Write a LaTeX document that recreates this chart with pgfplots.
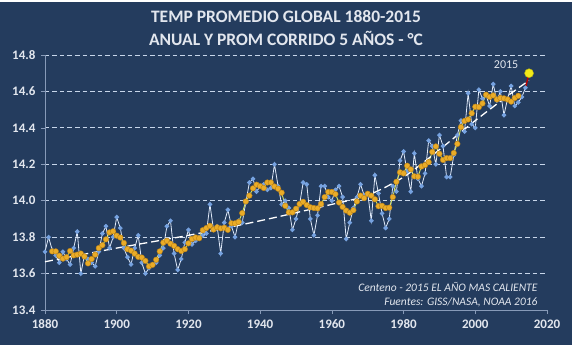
\documentclass[border=0pt]{standalone}
\usepackage{fontspec}
\setmainfont{Carlito}
\usepackage{pgfplots}
\usepackage{pgfplotstable}
\pgfplotsset{compat=1.18}
\definecolor{bg}{RGB}{36,60,94}
\definecolor{gridc}{RGB}{200,214,234}
\definecolor{axc}{RGB}{135,154,184}
\definecolor{txt}{RGB}{226,230,238}
\definecolor{annblue}{RGB}{118,162,224}
\definecolor{annline}{RGB}{225,235,250}
\definecolor{orangem}{RGB}{234,172,40}
\definecolor{orangee}{RGB}{186,128,20}
\definecolor{yline}{RGB}{214,228,96}
\definecolor{ydot}{RGB}{242,234,24}

\pgfplotstableread{
year t
1880 13.72
1881 13.80
1882 13.73
1883 13.70
1884 13.66
1885 13.72
1886 13.68
1887 13.65
1888 13.74
1889 13.83
1890 13.60
1891 13.70
1892 13.68
1893 13.66
1894 13.64
1895 13.72
1896 13.82
1897 13.86
1898 13.74
1899 13.80
1900 13.91
1901 13.85
1902 13.74
1903 13.69
1904 13.65
1905 13.74
1906 13.81
1907 13.66
1908 13.60
1909 13.63
1910 13.65
1911 13.66
1912 13.70
1913 13.74
1914 13.86
1915 13.89
1916 13.71
1917 13.62
1918 13.68
1919 13.77
1920 13.84
1921 13.76
1922 13.78
1923 13.80
1924 13.81
1925 13.82
1926 13.98
1927 13.84
1928 13.86
1929 13.71
1930 13.88
1931 13.95
1932 13.86
1933 13.80
1934 13.89
1935 13.88
1936 13.99
1937 14.10
1938 14.12
1939 14.05
1940 14.08
1941 14.09
1942 14.06
1943 14.07
1944 14.20
1945 14.08
1946 13.98
1947 14.00
1948 13.96
1949 13.84
1950 13.90
1951 13.98
1952 14.10
1953 14.09
1954 13.90
1955 13.81
1956 13.92
1957 14.08
1958 14.08
1959 14.02
1960 14.00
1961 14.06
1962 14.08
1963 14.02
1964 13.79
1965 13.88
1966 13.96
1967 14.02
1968 14.09
1969 14.03
1970 14.04
1971 13.89
1972 14.14
1973 14.04
1974 13.93
1975 13.85
1976 13.90
1977 14.08
1978 14.05
1979 14.22
1980 14.27
1981 14.16
1982 14.05
1983 14.26
1984 14.12
1985 14.08
1986 14.15
1987 14.33
1988 14.30
1989 14.20
1990 14.36
1991 14.30
1992 14.13
1993 14.13
1994 14.25
1995 14.36
1996 14.44
1997 14.38
1998 14.59
1999 14.42
2000 14.40
2001 14.61
2002 14.56
2003 14.58
2004 14.52
2005 14.64
2006 14.55
2007 14.60
2008 14.47
2009 14.56
2010 14.63
2011 14.52
2012 14.54
2013 14.57
2014 14.62
}\annual

\pgfplotstableread{
year t
1882 13.722
1883 13.722
1884 13.698
1885 13.682
1886 13.690
1887 13.724
1888 13.700
1889 13.704
1890 13.710
1891 13.694
1892 13.656
1893 13.680
1894 13.704
1895 13.740
1896 13.756
1897 13.788
1898 13.826
1899 13.832
1900 13.808
1901 13.798
1902 13.768
1903 13.734
1904 13.726
1905 13.710
1906 13.692
1907 13.688
1908 13.670
1909 13.640
1910 13.648
1911 13.676
1912 13.722
1913 13.770
1914 13.780
1915 13.764
1916 13.752
1917 13.734
1918 13.724
1919 13.734
1920 13.766
1921 13.790
1922 13.798
1923 13.794
1924 13.838
1925 13.850
1926 13.862
1927 13.842
1928 13.854
1929 13.848
1930 13.852
1931 13.840
1932 13.876
1933 13.876
1934 13.884
1935 13.932
1936 13.996
1937 14.028
1938 14.068
1939 14.088
1940 14.080
1941 14.070
1942 14.100
1943 14.100
1944 14.078
1945 14.066
1946 14.044
1947 13.972
1948 13.936
1949 13.936
1950 13.956
1951 13.982
1952 13.994
1953 13.976
1954 13.964
1955 13.960
1956 13.958
1957 13.982
1958 14.020
1959 14.048
1960 14.048
1961 14.036
1962 13.990
1963 13.966
1964 13.946
1965 13.934
1966 13.948
1967 13.996
1968 14.028
1969 14.014
1970 14.038
1971 14.028
1972 14.008
1973 13.970
1974 13.972
1975 13.960
1976 13.962
1977 14.020
1978 14.104
1979 14.156
1980 14.150
1981 14.192
1982 14.172
1983 14.134
1984 14.132
1985 14.188
1986 14.196
1987 14.212
1988 14.268
1989 14.298
1990 14.258
1991 14.224
1992 14.234
1993 14.234
1994 14.262
1995 14.312
1996 14.404
1997 14.438
1998 14.446
1999 14.480
2000 14.516
2001 14.514
2002 14.534
2003 14.582
2004 14.570
2005 14.578
2006 14.556
2007 14.564
2008 14.562
2009 14.556
2010 14.544
2011 14.564
2012 14.576
}\mean

\begin{document}
\begin{tikzpicture}[x=1pt,y=1pt]
\fill[white] (-45,-50) rectangle (527,310);
\fill[bg] (-45,-35) rectangle (527,308);
\path[use as bounding box] (-45,-50) rectangle (527,310);
\begin{axis}[
  at={(0,0)}, anchor=south west,
  scale only axis, width=502pt, height=255pt,
  xmin=1880, xmax=2020, ymin=13.4, ymax=14.8,
  xtick={1880,1900,...,2020},
  ytick={13.6,13.8,14.0,14.2,14.4,14.6,14.8},
  extra y ticks={13.4}, extra y tick labels={13.4},
  extra y tick style={grid=none},
  yticklabels={13.6,13.8,14.0,14.2,14.4,14.6,14.8},
  xticklabel={\pgfmathprintnumber[set thousands separator={}]{\tick}},
  /pgf/number format/assume math mode=true,
  axis x line*=bottom, axis y line*=left,
  axis line style={axc, line width=0.8pt, -},
  tick style={axc, line width=0.6pt},
  major tick length=4pt, tick align=outside,
  xtick pos=bottom, ytick pos=left,
  ymajorgrids,
  grid style={gridc, dash pattern=on 4.5pt off 3pt, line width=0.9pt},
  ticklabel style={font=\bfseries\fontsize{13}{13}\selectfont, text=txt},
  yticklabel style={xshift=-2pt},
  xticklabel style={yshift=-2pt},
  clip=false,
]
\addplot[annline, line width=0.8pt, mark=*, mark size=1.9pt,
  mark options={fill=annblue, draw=annblue}] table[x=year, y=t] {\annual};
\addplot[yline, line width=0.9pt, mark=*, mark size=2.8pt,
  mark options={fill=orangem, draw=orangee, line width=0.4pt}] table[x=year, y=t] {\mean};
\addplot[white, line width=1.3pt, dash pattern=on 8pt off 4pt, smooth] coordinates {
(1880,13.665) (1900,13.74) (1920,13.81) (1940,13.89) (1960,13.98) (1970,14.03)
(1980,14.13) (1990,14.28) (2000,14.44) (2010,14.59) (2015,14.66)};
\addplot[red!75!black, line width=1.4pt] coordinates {(2014,14.62) (2015,14.70)};
\addplot[only marks, mark=*, mark size=4.5pt,
  mark options={fill=ydot, draw=ydot!75!black, line width=0.4pt}] coordinates {(2015,14.70)};
\node[text=txt, font=\fontsize{12}{12}\selectfont] at (axis cs:2008.6,14.745) {2015};
\end{axis}
\node[text=txt, font=\bfseries\fontsize{17.5}{17.5}\selectfont] at (241,293) {TEMP PROMEDIO GLOBAL 1880-2015};
\node[text=txt, font=\bfseries\fontsize{17.5}{17.5}\selectfont] at (241,272) {ANUAL Y PROM CORRIDO 5 AÑOS - °C};
\node[anchor=east, text=txt, font=\itshape\fontsize{11.5}{11.5}\selectfont] at (496,23) {Centeno - 2015 EL AÑO MAS CALIENTE};
\node[anchor=east, text=txt, font=\itshape\fontsize{11.5}{11.5}\selectfont] at (496,8) {Fuentes: GISS/NASA, NOAA 2016};
\end{tikzpicture}
\end{document}
